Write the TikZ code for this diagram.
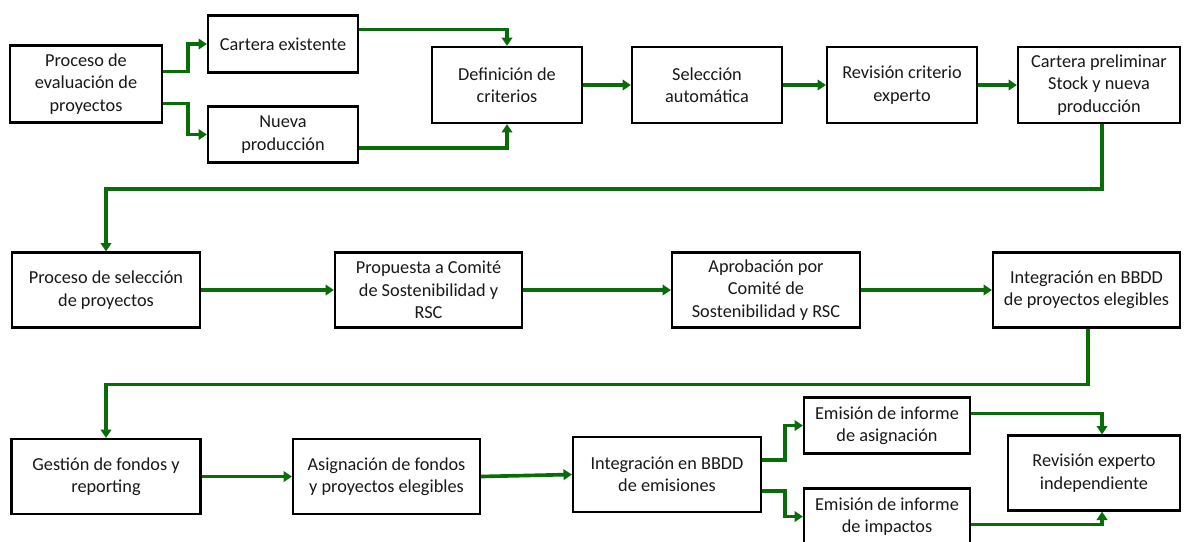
\documentclass[tikz,border=0pt]{standalone}
\usepackage{fontspec}
\setmainfont{Carlito}
\usetikzlibrary{arrows.meta}
\definecolor{flow}{RGB}{8,108,8}
\definecolor{txt}{RGB}{25,25,25}
\begin{document}
\begin{tikzpicture}[x=0.025cm,y=-0.025cm,
  bx/.style 2 args={draw=black, line width=1.5pt, fill=white, rectangle, inner sep=0pt,
     align=center, text=txt, font=\fontsize{13}{16}\selectfont,
     minimum width=#1*0.025cm, minimum height=#2*0.025cm},
  conn/.style={draw=flow, line width=2.6pt, -{Triangle[width=7.5pt,length=6pt]}}]
\fill[white] (0,0) rectangle (1184,541);
\useasboundingbox (0,0) rectangle (1184,541);
% row 1
\node[bx={152}{77}] (p1) at (86,84) {Proceso de\\evaluación de\\proyectos};
\node[bx={150}{57}] (ce) at (283,44) {Cartera existente};
\node[bx={150}{56}] (np) at (283,134.5) {Nueva\\producción};
\node[bx={150}{76}] (dc) at (507,85) {Definición de\\criterios};
\node[bx={150}{76}] (sa) at (707,85) {Selección\\automática};
\node[bx={150}{76}] (rc) at (902,85) {Revisión criterio\\experto};
\node[bx={162}{76}] (cp) at (1099,85) {Cartera preliminar\\Stock y nueva\\producción};
% row 2
\node[bx={188}{75}] (ps) at (106,290) {Proceso de selección\\de proyectos};
\node[bx={187}{75}] (pc) at (428.5,290) {Propuesta a Comité\\de Sostenibilidad y\\RSC};
\node[bx={188}{75}] (ap) at (766,290) {Aprobación por\\Comité de\\Sostenibilidad y RSC};
\node[bx={187}{75}] (ib) at (1086.5,290) {Integración en BBDD\\de proyectos elegibles};
% row 3
\node[bx={189}{75}] (gf) at (106,476.5) {Gestión de fondos y\\reporting};
\node[bx={187}{75}] (as) at (386.5,476.5) {Asignación de fondos\\y proyectos elegibles};
\node[bx={188}{75}] (ie) at (667,474.5) {Integración en BBDD\\de emisiones};
\node[bx={166}{56}] (ea) at (887,425.5) {Emisión de informe\\de asignación};
\node[bx={166}{56}] (ei) at (887,516.5) {Emisión de informe\\de impactos};
\node[bx={172}{75}] (rv) at (1094,473) {Revisión experto\\independiente};
% connectors row 1
\draw[conn] ([yshift=0.31cm]p1.east) -- ++(25,0) |- (ce.west);
\draw[conn] ([yshift=-0.49cm]p1.east) -- ++(25,0) |- (np.west);
\draw[conn] ([yshift=0.36cm]ce.east) -| (dc.north);
\draw[conn] ([yshift=-0.33cm]np.east) -| (dc.south);
\draw[conn] (dc.east) -- (sa.west);
\draw[conn] (sa.east) -- (rc.west);
\draw[conn] (rc.east) -- (cp.west);
\draw[conn] ([xshift=0.075cm]cp.south) -- ++(0,65) -| (ps.north);
% row 2
\draw[conn] (ps.east) -- (pc.west);
\draw[conn] (pc.east) -- (ap.west);
\draw[conn] (ap.east) -- (ib.west);
\draw[conn] ([xshift=0.04cm]ib.south) -- ++(0,56) -| (gf.north);
% row 3
\draw[conn] (gf.east) -- (as.west);
\draw[conn] (as.east) -- (ie.west);
\draw[conn] ([yshift=0.36cm]ie.east) -- ++(23,0) |- (ea.west);
\draw[conn] ([yshift=-0.41cm]ie.east) -- ++(23,0) |- (ei.west);
\draw[conn] ([yshift=0.3cm]ea.east) -| ([xshift=0.2cm]rv.north);
\draw[conn] ([yshift=-0.2cm]ei.east) -| ([xshift=0.2cm]rv.south);
\end{tikzpicture}
\end{document}
